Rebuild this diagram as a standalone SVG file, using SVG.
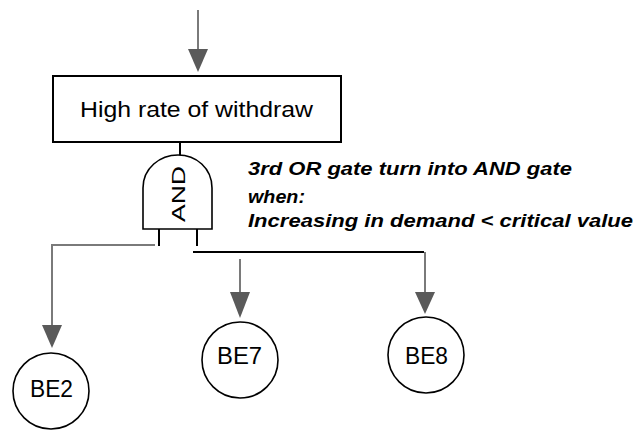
<svg xmlns="http://www.w3.org/2000/svg" width="638" height="431" viewBox="0 0 638 431">
<style>
.lbl{font-family:"Liberation Sans",Arial,sans-serif;fill:#000}
.node{fill:#fff;stroke:#000;stroke-width:1.6}
.gray{stroke:#7a7a7a;stroke-width:2;fill:none}
.blk{stroke:#000;stroke-width:2;fill:none}
.note{font-family:"Liberation Sans",Arial,sans-serif;font-weight:bold;font-style:italic;font-size:17.5px;fill:#000}
</style>
<rect width="638" height="431" fill="#fff"/>
<g id="connectors">
<line class="gray" x1="198" y1="10" x2="198" y2="50"/>
<path d="M188,49 L208,49 L198,72 Z" fill="#5a5a5a"/>
<line class="blk" x1="180" y1="143" x2="180" y2="156"/>
<line class="blk" x1="159" y1="229" x2="159" y2="246"/>
<line class="blk" x1="197" y1="229" x2="197" y2="246"/>
<polyline class="gray" points="155,245 52,245 52,327"/>
<path d="M42,325 L62,325 L52,348 Z" fill="#5a5a5a"/>
<polyline class="blk" points="193,252 424,252"/>
<line class="gray" x1="425" y1="252" x2="425" y2="293"/>
<path d="M415,292 L435,292 L425,314 Z" fill="#5a5a5a"/>
<line class="gray" x1="240" y1="259" x2="240" y2="294"/>
<path d="M230,292 L250,292 L240,318 Z" fill="#5a5a5a"/>
</g>
<g id="top-event">
<rect x="53" y="76" width="288" height="66" fill="#fff" stroke="#000" stroke-width="2"/>
<text class="lbl" x="80" y="117" font-size="22" textLength="233" lengthAdjust="spacingAndGlyphs">High rate of withdraw</text>
</g>
<g id="and-gate">
<path d="M143,229 L143,188 C143,168 160,155 178,155 C196,155 212,168 212,188 L212,229 Z" fill="#fff" stroke="#000" stroke-width="1.6"/>
<text class="lbl" x="0" y="0" font-size="19" fill="#222" textLength="56" lengthAdjust="spacingAndGlyphs" transform="translate(185,222) rotate(-90)">AND</text>
</g>
<g id="note">
<text class="note" x="248" y="175" textLength="324" lengthAdjust="spacingAndGlyphs">3rd OR gate turn into AND gate</text>
<text class="note" x="248" y="203" textLength="57" lengthAdjust="spacingAndGlyphs">when:</text>
<text class="note" x="248" y="227" textLength="385" lengthAdjust="spacingAndGlyphs">Increasing in demand &lt; critical value</text>
</g>
<g id="BE2">
<circle class="node" cx="51" cy="391" r="38"/>
<text class="lbl" x="30" y="397" font-size="23" textLength="43" lengthAdjust="spacingAndGlyphs">BE2</text>
</g>
<g id="BE7">
<circle class="node" cx="240" cy="360" r="38"/>
<text class="lbl" x="217" y="364" font-size="23" textLength="45" lengthAdjust="spacingAndGlyphs">BE7</text>
</g>
<g id="BE8">
<circle class="node" cx="426" cy="355" r="38"/>
<text class="lbl" x="405" y="364" font-size="23" textLength="43" lengthAdjust="spacingAndGlyphs">BE8</text>
</g>
</svg>
